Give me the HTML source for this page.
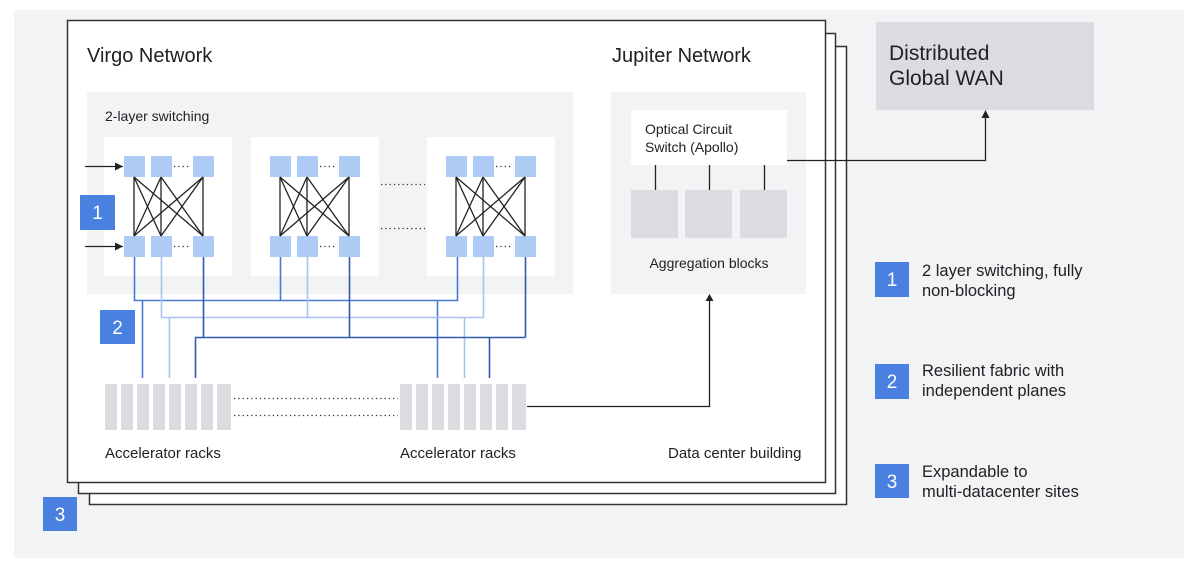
<!DOCTYPE html>
<html><head><meta charset="utf-8"><style>
html,body{margin:0;padding:0;background:#fff;}
svg{display:block;font-family:"Liberation Sans",sans-serif;}
</style></head><body>
<svg width="1200" height="577" viewBox="0 0 1200 577" xmlns="http://www.w3.org/2000/svg">
<defs>
<marker id="ar" viewBox="0 0 8 8" markerWidth="8" markerHeight="8" refX="8" refY="4" orient="auto" markerUnits="userSpaceOnUse"><path d="M0,0 L8,4 L0,8 z" fill="#222"/></marker>
<g id="sw">
  <rect x="124" y="156" width="21" height="21" fill="#aecbf5"/>
  <rect x="151" y="156" width="21" height="21" fill="#aecbf5"/>
  <rect x="193" y="156" width="21" height="21" fill="#aecbf5"/>
  <rect x="124" y="236" width="21" height="21" fill="#aecbf5"/>
  <rect x="151" y="236" width="21" height="21" fill="#aecbf5"/>
  <rect x="193" y="236" width="21" height="21" fill="#aecbf5"/>
  <line x1="174" y1="166.5" x2="191" y2="166.5" stroke="#333" stroke-width="1.3" stroke-dasharray="1.3,3"/>
  <line x1="174" y1="246.5" x2="191" y2="246.5" stroke="#333" stroke-width="1.3" stroke-dasharray="1.3,3"/>
  <g stroke="#222" stroke-width="1.3">
    <line x1="134" y1="177" x2="134" y2="236"/><line x1="134" y1="177" x2="161" y2="236"/><line x1="134" y1="177" x2="203" y2="236"/>
    <line x1="161" y1="177" x2="134" y2="236"/><line x1="161" y1="177" x2="161" y2="236"/><line x1="161" y1="177" x2="203" y2="236"/>
    <line x1="203" y1="177" x2="134" y2="236"/><line x1="203" y1="177" x2="161" y2="236"/><line x1="203" y1="177" x2="203" y2="236"/>
  </g>
</g>
<g id="rk" fill="#dadce0">
  <rect x="0" y="0" width="12" height="46"/><rect x="16" y="0" width="12" height="46"/><rect x="32" y="0" width="12" height="46"/><rect x="48" y="0" width="12" height="46"/>
  <rect x="64" y="0" width="12" height="46"/><rect x="80" y="0" width="12" height="46"/><rect x="96" y="0" width="12" height="46"/><rect x="112" y="0" width="14" height="46"/>
</g>
</defs>
<rect x="14" y="10" width="1170" height="548" fill="#f1f3f4"/>
<rect x="89.5" y="46.5" width="757" height="458" fill="#fff" stroke="#333" stroke-width="1.5"/>
<rect x="78.5" y="33.5" width="757" height="460" fill="#fff" stroke="#333" stroke-width="1.5"/>
<rect x="67.5" y="20.5" width="758" height="462" fill="#fff" stroke="#333" stroke-width="1.5"/>
<rect x="876" y="22" width="218" height="88" fill="#dadce0"/>
<text x="889" y="60" font-size="21" fill="#202124">Distributed</text>
<text x="889" y="85" font-size="21" fill="#202124">Global WAN</text>
<text x="87" y="62" font-size="20" fill="#202124">Virgo Network</text>
<text x="612" y="62" font-size="20" fill="#202124">Jupiter Network</text>
<rect x="87" y="92" width="486" height="202" fill="#f1f3f4"/>
<text x="105" y="121" font-size="14" fill="#202124">2-layer switching</text>
<rect x="104" y="137" width="128" height="139" fill="#fff"/>
<rect x="251" y="137" width="128" height="139" fill="#fff"/>
<rect x="427" y="137" width="128" height="139" fill="#fff"/>
<use href="#sw"/>
<use href="#sw" x="146"/>
<use href="#sw" x="322"/>
<line x1="381" y1="184.5" x2="425" y2="184.5" stroke="#333" stroke-width="1.3" stroke-dasharray="1.3,3"/>
<line x1="381" y1="228.5" x2="425" y2="228.5" stroke="#333" stroke-width="1.3" stroke-dasharray="1.3,3"/>
<line x1="85" y1="166.5" x2="123" y2="166.5" stroke="#222" stroke-width="1.3" marker-end="url(#ar)"/>
<line x1="85" y1="246.5" x2="123" y2="246.5" stroke="#222" stroke-width="1.3" marker-end="url(#ar)"/>
<g fill="none" stroke-width="1.6">
  <path d="M134.5 257V300.5H457.5V257 M280.5 257V300.5 M142.5 300.5V378 M437.5 300.5V378" stroke="#4a7ad4"/>
  <path d="M161.5 257V317.5H483.5V257 M307.5 257V317.5 M169.5 317.5V378 M464.5 317.5V378" stroke="#a9c3ee"/>
  <path d="M203.5 257V337.5 M349.5 257V337.5 M525.5 257V337.5 M195.5 378V337.5H525.5 M489.5 337.5V378" stroke="#2f5bb0"/>
</g>
<use href="#rk" x="105" y="384"/>
<use href="#rk" x="400" y="384"/>
<line x1="234" y1="398.5" x2="398" y2="398.5" stroke="#333" stroke-width="1.3" stroke-dasharray="1.3,3"/>
<line x1="234" y1="415.5" x2="398" y2="415.5" stroke="#333" stroke-width="1.3" stroke-dasharray="1.3,3"/>
<path d="M527 406.5H709.5V298" fill="none" stroke="#222" stroke-width="1.3"/>
<path d="M705.5 301L709.5 294L713.5 301z" fill="#222"/>
<text x="105" y="458" font-size="15" fill="#202124">Accelerator racks</text>
<text x="400" y="458" font-size="15" fill="#202124">Accelerator racks</text>
<text x="668" y="458" font-size="15" fill="#202124">Data center building</text>
<rect x="611" y="92" width="195" height="202" fill="#f1f3f4"/>
<rect x="631" y="110" width="156" height="55" fill="#fff"/>
<text x="645" y="134" font-size="14" fill="#202124">Optical Circuit</text>
<text x="645" y="152" font-size="14" fill="#202124">Switch (Apollo)</text>
<g stroke="#222" stroke-width="1.3"><line x1="655.5" y1="165" x2="655.5" y2="190"/><line x1="709.5" y1="165" x2="709.5" y2="190"/><line x1="764.5" y1="165" x2="764.5" y2="190"/></g>
<rect x="631" y="190" width="47" height="48" fill="#dadce0"/>
<rect x="685" y="190" width="47" height="48" fill="#dadce0"/>
<rect x="740" y="190" width="47" height="48" fill="#dadce0"/>
<text x="709" y="268" font-size="14" fill="#202124" text-anchor="middle">Aggregation blocks</text>
<path d="M787 160.5H985.5V116" fill="none" stroke="#222" stroke-width="1.3"/>
<path d="M981.5 118L985.5 110L989.5 118z" fill="#222"/>
<g font-size="19" fill="#fff" text-anchor="middle">
<rect x="80" y="195" width="35" height="35" fill="#4a80e0"/><text x="97.5" y="219">1</text>
<rect x="100" y="310" width="35" height="34" fill="#4a80e0"/><text x="117.5" y="334">2</text>
<rect x="43" y="497" width="34" height="34" fill="#4a80e0"/><text x="60" y="521">3</text>
<rect x="875" y="262" width="34" height="35" fill="#4a80e0"/><text x="892" y="286">1</text>
<rect x="875" y="364" width="34" height="35" fill="#4a80e0"/><text x="892" y="388">2</text>
<rect x="875" y="464" width="34" height="34" fill="#4a80e0"/><text x="892" y="488">3</text>
</g>
<g font-size="16.5" fill="#202124">
<text x="922" y="276">2 layer switching, fully</text><text x="922" y="296">non-blocking</text>
<text x="922" y="376">Resilient fabric with</text><text x="922" y="396">independent planes</text>
<text x="922" y="477">Expandable to</text><text x="922" y="497">multi-datacenter sites</text>
</g>
</svg>
</body></html>
